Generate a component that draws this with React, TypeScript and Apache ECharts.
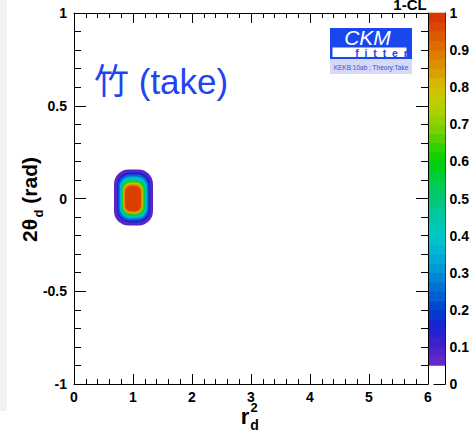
import React, { useEffect, useRef } from "react";
import * as echarts from "echarts";

// ---- axis ranges / ticks ----
const xRange = [0, 6];
const yRange = [-1, 1];
const colorbarRange = [0, 1];

// ---- 1-CL contour levels of the blob (outer -> inner) ----
const contourLevels = [0.05, 0.1, 0.2, 0.3, 0.4, 0.5, 0.6, 0.7, 0.8, 0.9, 0.95];
const contourXMin = [0.678, 0.734, 0.751, 0.775, 0.797, 0.814, 0.825, 0.836, 0.847, 0.859, 0.869];
const contourXMax = [1.339, 1.288, 1.266, 1.242, 1.22, 1.203, 1.186, 1.169, 1.158, 1.141, 1.131];
const contourYMax = [0.156, 0.14, 0.129, 0.119, 0.108, 0.099, 0.092, 0.085, 0.08, 0.072, 0.066];
const contourYMin = [-0.146, -0.129, -0.119, -0.108, -0.099, -0.092, -0.086, -0.081, -0.077, -0.072, -0.068];

// ---- colour bar bands ----
const colorbarEdges = [
  0.05, 0.075, 0.1, 0.125, 0.15, 0.175, 0.2, 0.225, 0.25, 0.275, 0.3, 0.325, 0.35,
  0.375, 0.4, 0.425, 0.45, 0.475, 0.5, 0.525, 0.55, 0.575, 0.6, 0.625, 0.65, 0.675,
  0.7, 0.725, 0.75, 0.775, 0.8, 0.825, 0.85, 0.875, 0.9, 0.925, 0.95, 0.975, 1.0,
];

// palette (style)
const paletteStops: [number, string][] = [
  [0.05, "#7028c8"],
  [0.1, "#4422c8"],
  [0.15, "#1c20d0"],
  [0.2, "#0040d0"],
  [0.25, "#0068d4"],
  [0.3, "#0090d4"],
  [0.35, "#00b0d8"],
  [0.4, "#00c8c8"],
  [0.45, "#00c8a4"],
  [0.5, "#00c878"],
  [0.55, "#00cc48"],
  [0.6, "#00d000"],
  [0.65, "#44d000"],
  [0.7, "#8cd000"],
  [0.75, "#b8d000"],
  [0.8, "#d4c000"],
  [0.85, "#dc9800"],
  [0.9, "#e07400"],
  [0.95, "#dc5000"],
  [1.0, "#d83000"],
];

function hexToRgb(h: string) {
  const n = parseInt(h.slice(1), 16);
  return [(n >> 16) & 255, (n >> 8) & 255, n & 255];
}
function colorAt(v: number): string {
  if (v <= paletteStops[0][0]) return paletteStops[0][1];
  for (let i = 1; i < paletteStops.length; i++) {
    const [v1, c1] = paletteStops[i];
    const [v0, c0] = paletteStops[i - 1];
    if (v <= v1) {
      const t = (v - v0) / (v1 - v0);
      const a = hexToRgb(c0);
      const b = hexToRgb(c1);
      const m = a.map((x, k) => Math.round(x + (b[k] - x) * t));
      return `rgb(${m[0]},${m[1]},${m[2]})`;
    }
  }
  return paletteStops[paletteStops.length - 1][1];
}

const FONT = "'Liberation Sans', Arial, Helvetica, sans-serif";

export default function App() {
  const ref = useRef<HTMLDivElement>(null);
  useEffect(() => {
    document.body.style.margin = "0";
    const chart = echarts.init(ref.current!, null, { renderer: "svg" });

    const black = "#000";
    const labelStyle = {
      color: black,
      fontWeight: "bold" as const,
      fontSize: 14,
      fontFamily: FONT,
    };

    const contourData = contourLevels.map((l, i) => [
      contourXMin[i],
      contourXMax[i],
      contourYMin[i],
      contourYMax[i],
      l,
      i + 1 < contourLevels.length ? contourLevels[i + 1] : 1,
    ]);
    const bandData = colorbarEdges.slice(0, -1).map((lo, i) => [lo, colorbarEdges[i + 1]]);

    const option: any = {
      animation: false,
      backgroundColor: "#fff",
      grid: [
        { left: 74, top: 13, width: 354, height: 371, show: false },
        { left: 429, top: 13, width: 21, height: 371, show: false },
      ],
      xAxis: [
        {
          type: "value",
          gridIndex: 0,
          position: "bottom",
          min: xRange[0],
          max: xRange[1],
          interval: 1,
          axisLine: { show: true, onZero: false, lineStyle: { color: black, width: 1 } },
          axisTick: { show: true, inside: true, length: 10, lineStyle: { color: black } },
          minorTick: { show: true, splitNumber: 5, length: 5, lineStyle: { color: black } },
          splitLine: { show: false },
          minorSplitLine: { show: false },
          axisLabel: { ...labelStyle, margin: 6 },
        },
        {
          type: "value",
          gridIndex: 0,
          position: "top",
          min: xRange[0],
          max: xRange[1],
          interval: 1,
          axisLine: { show: true, onZero: false, lineStyle: { color: black, width: 1 } },
          axisTick: { show: true, inside: true, length: 10, lineStyle: { color: black } },
          minorTick: { show: true, splitNumber: 5, length: 5, lineStyle: { color: black } },
          splitLine: { show: false },
          axisLabel: { show: false },
        },
        {
          type: "value",
          gridIndex: 1,
          min: 0,
          max: 1,
          show: false,
        },
      ],
      yAxis: [
        {
          type: "value",
          gridIndex: 0,
          position: "left",
          min: yRange[0],
          max: yRange[1],
          interval: 0.5,
          axisLine: { show: true, onZero: false, lineStyle: { color: black, width: 1 } },
          axisTick: { show: true, inside: true, length: 12, lineStyle: { color: black } },
          minorTick: { show: true, splitNumber: 5, length: 7, lineStyle: { color: black } },
          splitLine: { show: false },
          axisLabel: { ...labelStyle, margin: 7 },
        },
        {
          type: "value",
          gridIndex: 0,
          position: "right",
          min: yRange[0],
          max: yRange[1],
          interval: 0.5,
          axisLine: { show: true, onZero: false, lineStyle: { color: black, width: 1 } },
          axisTick: { show: true, inside: true, length: 12, lineStyle: { color: black } },
          minorTick: { show: true, splitNumber: 5, length: 7, lineStyle: { color: black } },
          splitLine: { show: false },
          axisLabel: { show: false },
        },
        {
          type: "value",
          gridIndex: 1,
          position: "right",
          min: colorbarRange[0],
          max: colorbarRange[1],
          interval: 0.1,
          axisLine: { show: true, onZero: false, lineStyle: { color: black, width: 1 } },
          axisTick: { show: true, inside: true, length: 12, lineStyle: { color: black } },
          splitLine: { show: false },
          axisLabel: {
            ...labelStyle,
            margin: 4,
            formatter: (v: number) => String(+v.toFixed(1)),
          },
        },
      ],
      series: [
        {
          type: "custom",
          name: "1-CL",
          xAxisIndex: 0,
          yAxisIndex: 0,
          clip: true,
          encode: { x: [0, 1], y: [2, 3] },
          data: contourData,
          renderItem: (params: any, api: any) => {
            const x0 = api.value(0);
            const x1 = api.value(1);
            const y0 = api.value(2);
            const y1 = api.value(3);
            const lvl = api.value(4);
            const next = api.value(5);
            const pA = api.coord([x0, y1]);
            const pB = api.coord([x1, y0]);
            const w = pB[0] - pA[0];
            const h = pB[1] - pA[1];
            const r = (0.75 * Math.min(w, h)) / 2;
            return {
              type: "rect",
              shape: { x: pA[0], y: pA[1], width: w, height: h, r },
              style: { fill: colorAt((lvl + next) / 2), stroke: null },
            };
          },
        },
        {
          type: "custom",
          name: "colorbar",
          xAxisIndex: 2,
          yAxisIndex: 2,
          encode: { y: [0, 1] },
          data: bandData,
          renderItem: (params: any, api: any) => {
            const lo = api.value(0);
            const hi = api.value(1);
            const pA = api.coord([0, hi]);
            const pB = api.coord([1, lo]);
            return {
              type: "rect",
              shape: {
                x: pA[0],
                y: pA[1] - 0.3,
                width: pB[0] - pA[0],
                height: pB[1] - pA[1] + 0.6,
              },
              style: { fill: colorAt((lo + hi) / 2), stroke: null },
            };
          },
        },
      ],
      graphic: [
        { type: "rect", shape: { x: 0, y: 0, width: 7, height: 411 }, style: { fill: "#f2f2f2" }, z: -10 },
        // title of colour bar
        {
          type: "text",
          x: 410,
          y: 4,
          style: {
            text: "1-CL",
            fill: black,
            font: `bold 15px ${FONT}`,
            align: "center",
            verticalAlign: "middle",
          },
        },
        // label in plot
        {
          type: "text",
          x: 94,
          y: 81,
          style: {
            text: "竹 (take)",
            fill: "#1f44f2",
            font: `35px 'Liberation Sans', 'Noto Sans CJK JP', sans-serif`,
            align: "left",
            verticalAlign: "middle",
          },
        },
        // CKMfitter logo
        { type: "rect", shape: { x: 330, y: 28, width: 82, height: 31 }, style: { fill: "#1a46ee" } },
        { type: "rect", shape: { x: 332.5, y: 47.5, width: 74, height: 9.5 }, style: { fill: "#fff" } },
        { type: "rect", shape: { x: 330, y: 59, width: 82, height: 15 }, style: { fill: "#d6daf4" } },
        {
          type: "text",
          x: 367.5,
          y: 37,
          style: {
            text: "CKM",
            fill: "#fff",
            font: `italic 21px ${FONT}`,
            align: "center",
            verticalAlign: "middle",
          },
        },
        {
          type: "text",
          x: 381.5,
          y: 52.5,
          style: {
            text: "f  i  t  t  e  r",
            fill: "#1a46ee",
            font: `bold 10.5px ${FONT}`,
            align: "center",
            verticalAlign: "middle",
          },
        },
        {
          type: "text",
          x: 371,
          y: 67.5,
          style: {
            text: "KEKB:10ab ; Theory:Take",
            fill: "#3050e0",
            font: `6.5px ${FONT}`,
            align: "center",
            verticalAlign: "middle",
          },
        },
        // x axis title r_d^2
        {
          type: "text",
          x: 245,
          y: 416.5,
          style: { text: "r", fill: black, font: `bold 22px ${FONT}`, align: "center", verticalAlign: "middle" },
        },
        {
          type: "text",
          x: 254,
          y: 407,
          style: { text: "2", fill: black, font: `bold 13px ${FONT}`, align: "center", verticalAlign: "middle" },
        },
        {
          type: "text",
          x: 254.5,
          y: 425,
          style: { text: "d", fill: black, font: `bold 14px ${FONT}`, align: "center", verticalAlign: "middle" },
        },
        // y axis title 2θ_d (rad)
        {
          type: "group",
          x: 37,
          y: 242,
          rotation: Math.PI / 2,
          children: [
            {
              type: "text",
              x: 0,
              y: -7.3,
              style: { text: "2θ", fill: black, font: `bold 21px ${FONT}`, align: "left", verticalAlign: "middle" },
            },
            {
              type: "text",
              x: 24.5,
              y: 1.5,
              style: { text: "d", fill: black, font: `bold 13px ${FONT}`, align: "left", verticalAlign: "middle" },
            },
            {
              type: "text",
              x: 32.5,
              y: -7.3,
              style: { text: " (rad)", fill: black, font: `bold 21px ${FONT}`, align: "left", verticalAlign: "middle" },
            },
          ],
        },
      ],
    };

    chart.setOption(option);
    return () => chart.dispose();
  }, []);
  return <div ref={ref} style={{ width: 472, height: 433, background: "#fff" }} />;
}
